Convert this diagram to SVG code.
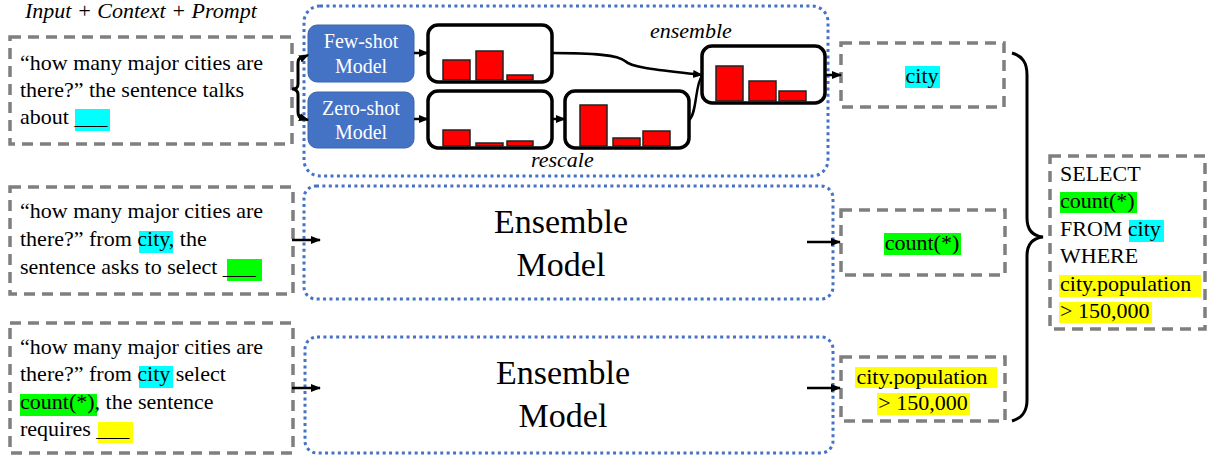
<svg xmlns="http://www.w3.org/2000/svg" width="1212" height="459" viewBox="0 0 1212 459">
<defs>
<style>
.t{font-family:"Liberation Serif","Times New Roman",serif;font-size:22px;fill:#000}
.it{font-style:italic}
.big{font-family:"Liberation Serif","Times New Roman",serif;font-size:34px;fill:#000;text-anchor:middle}
.wt{font-family:"Liberation Serif","Times New Roman",serif;font-size:20px;fill:#fff;text-anchor:middle}
.dash{fill:#fff;stroke:#7f7f7f;stroke-width:3.5;stroke-dasharray:11 7}
.dot{fill:none;stroke:#4472C4;stroke-width:3;stroke-dasharray:3 3.4}
.model{fill:#4472C4;stroke:#3a64ad;stroke-width:1}
.hist{fill:#fff;stroke:#000;stroke-width:3.5}
.bar{fill:#ff0000;stroke:#222;stroke-width:1.5}
.ln{fill:none;stroke:#000;stroke-width:2.5}
.br{fill:none;stroke:#000;stroke-width:3}
.cy{fill:#00ffff}.gr{fill:#00ff00}.ye{fill:#ffff00}
</style>
<marker id="ah" markerUnits="userSpaceOnUse" markerWidth="10" markerHeight="10" viewBox="0 0 10 10" refX="9" refY="5" orient="auto">
<path d="M0,1 L10,5 L0,9 Z" fill="#000"/>
</marker>
</defs>
<rect width="1212" height="459" fill="#fff"/>

<text class="t it" x="25" y="18">Input + Context + Prompt</text>

<g id="input1">
<rect class="dash" x="10" y="37" width="282" height="107"/>
<rect class="cy" x="75" y="109" width="35" height="22"/>
<text class="t" x="20" y="70">“how many major cities are</text>
<text class="t" x="20" y="97">there?” the sentence talks</text>
<text class="t" x="20" y="124">about ___</text>
</g>

<g id="input2">
<rect class="dash" x="10" y="187" width="283" height="107"/>
<rect class="cy" x="139" y="231" width="34" height="22"/>
<rect class="gr" x="227" y="259" width="35" height="22"/>
<text class="t" x="20" y="218">“how many major cities are</text>
<text class="t" x="20" y="246">there?” from city, the</text>
<text class="t" x="20" y="274">sentence asks to select ___</text>
</g>

<g id="input3">
<rect class="dash" x="10" y="323" width="283" height="130"/>
<rect class="cy" x="139" y="366" width="34" height="22"/>
<rect class="gr" x="20" y="394" width="77" height="22"/>
<rect class="ye" x="98" y="422" width="35" height="21"/>
<text class="t" x="20" y="354">“how many major cities are</text>
<text class="t" x="20" y="381">there?” from city select</text>
<text class="t" x="20" y="409">count(*), the sentence</text>
<text class="t" x="20" y="436">requires ___</text>
</g>

<g id="ensemble1">
<rect class="dot" x="304" y="6" width="524" height="170" rx="16"/>
<text class="t it" x="650" y="38">ensemble</text>
<text class="t it" x="531" y="167">rescale</text>
</g>

<g id="fewshot">
<rect class="model" x="308" y="25" width="106" height="57" rx="9"/>
<text class="wt" x="361" y="48">Few-shot</text>
<text class="wt" x="361" y="73">Model</text>
</g>
<g id="zeroshot">
<rect class="model" x="308" y="92" width="106" height="56" rx="9"/>
<text class="wt" x="361" y="115">Zero-shot</text>
<text class="wt" x="361" y="139">Model</text>
</g>

<g id="hist1">
<rect class="hist" x="428" y="25" width="124" height="57" rx="10"/>
<rect class="bar" x="443" y="60" width="27" height="20"/>
<rect class="bar" x="476" y="51" width="27" height="29"/>
<rect class="bar" x="507" y="75" width="26" height="5"/>
</g>
<g id="hist2">
<rect class="hist" x="428" y="91" width="124" height="57" rx="10"/>
<rect class="bar" x="443" y="130" width="27" height="16"/>
<rect class="bar" x="476" y="143" width="27" height="3"/>
<rect class="bar" x="507" y="141" width="26" height="5"/>
</g>
<g id="hist3">
<rect class="hist" x="565" y="91" width="124" height="57" rx="10"/>
<rect class="bar" x="580" y="105" width="27" height="41"/>
<rect class="bar" x="613" y="138" width="27" height="8"/>
<rect class="bar" x="643" y="131" width="27" height="15"/>
</g>
<g id="hist4">
<rect class="hist" x="702" y="46" width="123" height="57" rx="10"/>
<rect class="bar" x="716" y="66" width="27" height="35"/>
<rect class="bar" x="749" y="81" width="27" height="20"/>
<rect class="bar" x="779" y="91" width="27" height="10"/>
</g>

<g id="ensemble2">
<rect class="dot" x="304" y="186" width="529" height="113" rx="12"/>
<text class="big" x="561" y="233">Ensemble</text>
<text class="big" x="561" y="276">Model</text>
</g>
<g id="ensemble3">
<rect class="dot" x="305" y="337" width="528" height="116" rx="12"/>
<text class="big" x="563" y="384">Ensemble</text>
<text class="big" x="563" y="427">Model</text>
</g>

<g id="out1">
<rect class="dash" x="841" y="43" width="163" height="64"/>
<rect class="cy" x="905" y="66" width="35" height="22"/>
<text class="t" x="922" y="83" text-anchor="middle">city</text>
</g>
<g id="out2">
<rect class="dash" x="841" y="210" width="164" height="65"/>
<rect class="gr" x="884" y="233" width="77" height="22"/>
<text class="t" x="922" y="250" text-anchor="middle">count(*)</text>
</g>
<g id="out3">
<rect class="dash" x="841" y="357" width="164" height="64"/>
<rect class="ye" x="855" y="367" width="142" height="21"/>
<rect class="ye" x="877" y="393" width="93" height="22"/>
<text class="t" x="922" y="384" text-anchor="middle">city.population</text>
<text class="t" x="923" y="410" text-anchor="middle">&gt; 150,000</text>
</g>

<g id="sql">
<rect class="dash" x="1050" y="156" width="155" height="173"/>
<rect class="gr" x="1060" y="192" width="77" height="21"/>
<rect class="cy" x="1129" y="220" width="35" height="22"/>
<rect class="ye" x="1059" y="275" width="142" height="22"/>
<rect class="ye" x="1059" y="302" width="93" height="21"/>
<text class="t" x="1060" y="181">SELECT</text>
<text class="t" x="1060" y="208">count(*)</text>
<text class="t" x="1060" y="236">FROM city</text>
<text class="t" x="1060" y="263">WHERE</text>
<text class="t" x="1060" y="291">city.population</text>
<text class="t" x="1060" y="318">&gt; 150,000</text>
</g>

<g id="connectors">
<path class="br" d="M303,57 C297,58 298,62 298,68 L298,84 C298,88 296,89 292,89 C296,89 298,91 298,95 L298,112 C298,117 300,118 303,119"/>
<path class="ln" d="M302,58 L308,55" marker-end="url(#ah)"/>
<path class="ln" d="M302,118 L308,120" marker-end="url(#ah)"/>
<path class="ln" d="M414,53 L428,53" marker-end="url(#ah)"/>
<path class="ln" d="M414,119 L428,119" marker-end="url(#ah)"/>
<path class="ln" d="M552,119 L565,119" marker-end="url(#ah)"/>
<path class="ln" d="M552,53 C595,53 618,55 625,61 C632,68 660,70 702,75" marker-end="url(#ah)"/>
<path class="ln" d="M689,120 C697,114 695,84 702,76"/>
<path class="ln" d="M825,75 L841,75" marker-end="url(#ah)"/>
<path class="ln" d="M292,240 L320,240" marker-end="url(#ah)"/>
<path class="ln" d="M292,388 L320,388" marker-end="url(#ah)"/>
<path class="ln" d="M807,242 L840,242" marker-end="url(#ah)"/>
<path class="ln" d="M807,388 L840,388" marker-end="url(#ah)"/>
<path class="br" d="M1012,53 C1022,56 1027,62 1027,75 L1027,218 C1027,230 1033,236 1043,237 C1033,238 1027,244 1027,256 L1027,400 C1027,412 1022,418 1012,421"/>
</g>
</svg>
